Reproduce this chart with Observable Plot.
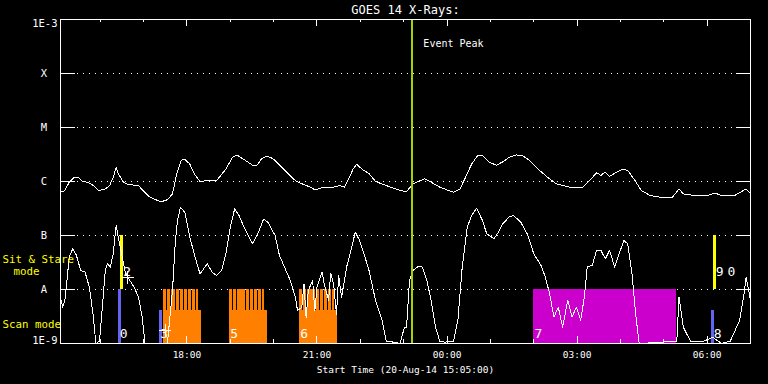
<!DOCTYPE html>
<html><head><meta charset="utf-8">
<script src="https://cdn.jsdelivr.net/npm/d3@7"></script>
<script src="https://cdn.jsdelivr.net/npm/@observablehq/plot@0.6"></script>
<style>html,body{margin:0;padding:0;background:#000;} #chart svg{display:block}</style>
</head><body><div id="chart"></div>
<script>
// ---- time base ----
const startISO = "2014-08-20T15:05:00Z";
const endMinutes = 955;               // plot ends 07:00 next day
const eventPeakMin = 487;             // Event Peak (~23:12)

// ---- GOES 14 long channel (1-8 Å), minutes after start, W/m^2 ----
const longMin = [0,6,12,19,25,31,37,46,53,62,68,73,77,80,87,93,108,114,124,139,148,155,161,167,172,179,185,193,204,216,229,238,244,253,266,272,278,284,291,297,306,315,325,334,346,352,365,377,386,393,399,405,410,417,427,436,451,470,479,488,498,504,513,525,544,553,563,569,578,584,593,603,612,621,631,640,649,661,674,686,705,723,733,742,748,754,760,770,779,785,794,804,816,831,847,856,862,878,896,906,915,933,949,955];
const longFlux = [6.3e-7,6.8e-7,9.7e-7,1.2e-6,1.17e-6,1.0e-6,9.7e-7,8.4e-7,6.8e-7,7.3e-7,8.4e-7,1.2e-6,1.8e-6,1.4e-6,9.7e-7,8.8e-7,8.4e-7,6.8e-7,5.1e-7,4.2e-7,4.6e-7,5.9e-7,1.4e-6,2.45e-6,2.6e-6,2.1e-6,1.4e-6,1.0e-6,1.04e-6,1.04e-6,1.7e-6,2.8e-6,3.1e-6,2.6e-6,2.0e-6,2.0e-6,2.6e-6,2.9e-6,2.8e-6,2.45e-6,1.84e-6,1.4e-6,1.04e-6,9.1e-7,7.85e-7,7.0e-7,7.85e-7,7.85e-7,8.4e-7,7.85e-7,1.12e-6,1.7e-6,2.1e-6,1.7e-6,1.4e-6,1.0e-6,8.4e-7,6.8e-7,6.5e-7,9.1e-7,1.04e-6,1.12e-6,9.7e-7,7.85e-7,6.3e-7,7.3e-7,1.4e-6,2.1e-6,3.1e-6,3.0e-6,2.3e-6,2.0e-6,2.3e-6,2.8e-6,3.1e-6,3.0e-6,2.45e-6,1.7e-6,1.2e-6,9.1e-7,7.85e-7,7.85e-7,1.07e-6,1.45e-6,1.3e-6,1.5e-6,1.24e-6,1.5e-6,1.7e-6,1.6e-6,1.1e-6,6.8e-7,5.5e-7,5.1e-7,5.1e-7,7.3e-7,5.9e-7,5.5e-7,5.5e-7,6.1e-7,5.5e-7,5.5e-7,7.3e-7,5.9e-7];

// ---- GOES 14 short channel (0.5-4 Å) ----
const shortMin = [0,3,6,9,12,17,22,28,34,40,45,49,54,59,62,65,69,73,77,80,85,90,96,102,108,113,117,148,151,155,159,162,166,172,179,185,193,198,203,210,216,223,229,235,241,247,255,266,275,281,287,297,303,312,318,325,328,334,337,340,343,349,352,355,362,365,371,374,378,382,385,389,396,402,408,414,420,427,436,445,451,461,470,476,479,483,488,495,501,507,513,519,525,532,544,550,556,563,569,576,584,590,600,606,612,621,627,637,646,655,665,671,677,683,689,695,702,708,714,720,725,729,736,742,748,754,760,767,773,780,785,791,796,801,853,856,862,872,890,903,915,927,940,946,949,955];
const shortFlux = [7.2e-9,4.7e-9,6.3e-9,1.47e-8,4.0e-8,5.7e-8,4.3e-8,2.25e-8,2.1e-8,1.1e-8,3.5e-9,1.0e-9,1.1e-9,7.2e-9,2.25e-8,3.0e-8,2.6e-8,4.6e-8,1.53e-7,9.3e-8,4.3e-8,1.95e-8,1.47e-8,1.1e-8,7.2e-9,3.1e-9,1.0e-9,1.0e-9,2.7e-9,9.6e-9,8.1e-8,1.9e-7,3.35e-7,2.7e-7,9.3e-8,4.6e-8,1.95e-8,2.4e-8,3.0e-8,2.1e-8,1.8e-8,2.25e-8,4.6e-8,1.43e-7,3.1e-7,2.35e-7,1.33e-7,7.0e-8,1.24e-7,2.0e-7,1.77e-7,1.0e-7,4.3e-8,2.25e-8,1.47e-8,7.2e-9,4.1e-9,4.7e-9,1.27e-8,3.0e-9,9.6e-9,1.47e-8,4.0e-9,1.1e-8,2.1e-8,1.27e-8,6.3e-9,2.0e-8,1.27e-8,3.5e-9,1.8e-8,7.2e-9,2.6e-8,5.3e-8,1.15e-7,8.1e-8,4.6e-8,2.25e-8,6.3e-9,2.7e-9,1.1e-9,1.06e-9,1.0e-9,2.0e-9,2.0e-9,1.47e-8,2.25e-8,2.67e-8,2.6e-8,1.47e-8,6.3e-9,2.0e-9,1.1e-9,1.06e-9,1.1e-9,2.7e-9,2.6e-8,1.43e-7,2.35e-7,3.2e-7,1.9e-7,1.07e-7,8.7e-8,1.15e-7,1.64e-7,2.2e-7,2.35e-7,1.77e-7,1.07e-7,4.6e-8,2.8e-8,1.7e-8,8.3e-9,3.1e-9,4.7e-9,2.0e-9,6.3e-9,3.1e-9,4.7e-9,2.7e-9,7.2e-9,2.6e-8,2.8e-8,5.3e-8,5.3e-8,3.7e-8,5.3e-8,2.6e-8,4.6e-8,8.1e-8,7.0e-8,1.95e-8,3.5e-9,1.0e-9,1.1e-9,7.2e-9,2.0e-9,1.1e-9,1.1e-9,1.3e-9,1.0e-9,1.1e-9,2.7e-9,8.3e-9,1.7e-8,6.3e-9];

// ---- observation timeline (minutes after start) ----
const scanBottom = 1e-9, scanLow = 4.1e-9, scanTop = 1e-8, sitTop = 1e-7;
const rasterSteps = [
  [143,148,154,160,166,172,177,183,188],
  [234,239,245,251,257,263,268,274,279],
  [331,336,342,348,354,360,365,371,376]
];
const rasterStepEnd = [192, 283, 380];
const rasterEnd = [195, 286, 383];
const magentaStart = [655], magentaEnd = [852];
const blueStart = [80.6, 137.2, 901.4], blueEnd = [84.3, 141.5, 905.3], blueTop = [1e-8, 4.1e-9, 4.1e-9];
const yellowStart = [83.1, 904.3], yellowEnd = [87.2, 907.4];
const obsLabels = ["0","2","3","5","6","7","8","9","0"];
const obsLabelMin = [82, 87, 138, 235, 332, 656, 904, 907, 923];
const obsLabelFlux = [1.5e-9, 2.1e-8, 1.5e-9, 1.5e-9, 1.5e-9, 1.5e-9, 1.5e-9, 2.1e-8, 2.1e-8];
const plusMin = [93, 145], plusFlux = [1.67e-8, 1.74e-9];

// ---- axes ----
const levelLetters = ["A","B","C","M","X"];
const levelValues = [1e-8,1e-7,1e-6,1e-5,1e-4];
const tickLabels = ["18:00","21:00","00:00","03:00","06:00"];
const tickMinutes = [175, 355, 535, 715, 895];
const modeText = ["Sit & Stare", "Scan mode"];
const modeFlux = [3.6e-8, 2.25e-9];

const t0 = new Date(startISO).getTime();
const at = m => new Date(t0 + m * 60000);

const longData = longMin.map((m, i) => ({t: at(m), f: longFlux[i]}));
const shortData = shortMin.map((m, i) => ({t: at(m), f: shortFlux[i]}));
const stripes = [];
rasterSteps.forEach((steps, b) => steps.forEach((s, j) => stripes.push({x1: at(s), x2: at(j + 1 < steps.length ? steps[j + 1] : rasterStepEnd[b])})));
const rasters = rasterSteps.map((steps, b) => ({x1: at(steps[0]), x2: at(rasterEnd[b])}));
const magenta = magentaStart.map((s, i) => ({x1: at(s), x2: at(magentaEnd[i])}));
const blues = blueStart.map((s, i) => ({x1: at(s), x2: at(blueEnd[i]), top: blueTop[i]}));
const yellows = yellowStart.map((s, i) => ({x1: at(s), x2: at(yellowEnd[i])}));
const obs = obsLabels.map((l, i) => ({t: at(obsLabelMin[i]), f: obsLabelFlux[i], l}));
const pluses = plusMin.map((m, i) => ({t: at(m), f: plusFlux[i]}));
const hourTicks = d3.utcHour.range(at(0), at(endMinutes));
const majorTicks = tickMinutes.map(at);

const W = 768, H = 384, mL = 60, mR = 18, mT = 19, mB = 41;
const iw = W - mL - mR, ih = H - mT - mB;
const font = "DejaVu Sans Mono";
const crisp = {shapeRendering: "crispEdges"};
const mid = {lineAnchor: "middle"};

const chart = Plot.plot({
  width: W, height: H, marginLeft: mL, marginRight: mR, marginTop: mT, marginBottom: mB,
  style: {background: "#000", color: "#fff", fontFamily: font, fontSize: "10px"},
  x: {type: "utc", domain: [at(0), at(endMinutes)], axis: null},
  y: {type: "log", domain: [1e-9, 1e-3], axis: null},
  marks: [
    Plot.ruleY(levelValues, {stroke: "#fff", strokeDasharray: "1,5", insetLeft: 17, insetRight: 15, ...crisp}),
    Plot.rect(magenta, {x1: "x1", x2: "x2", y1: scanBottom, y2: scanTop, fill: "#cc00cc", ...crisp}),
    Plot.rect(rasters, {x1: "x1", x2: "x2", y1: scanBottom, y2: scanLow, fill: "#ff8000", ...crisp}),
    Plot.rect(stripes, {x1: "x1", x2: "x2", y1: scanBottom, y2: scanTop, fill: "#ff8000", insetRight: 0.8, ...crisp}),
    Plot.rect(blues, {x1: "x1", x2: "x2", y1: scanBottom, y2: "top", fill: "#6464f0", ...crisp}),
    Plot.rect(yellows, {x1: "x1", x2: "x2", y1: scanTop, y2: sitTop, fill: "#ffff00", ...crisp}),
    Plot.line(longData, {x: "t", y: "f", stroke: "#fff", strokeWidth: 1, clip: true, ...crisp}),
    Plot.line(shortData, {x: "t", y: "f", stroke: "#fff", strokeWidth: 1, clip: true, ...crisp}),
    Plot.dot(pluses, {x: "t", y: "f", symbol: "plus", r: 4, stroke: "#fff", strokeWidth: 1, ...crisp}),
    Plot.ruleX([eventPeakMin], {x: d => at(d), stroke: "#a2d400", strokeWidth: 2, ...crisp}),
    Plot.text(["Event Peak"], {x: () => at(eventPeakMin), text: d => d, frameAnchor: "top", dx: 11, dy: 24, textAnchor: "start", fill: "#fff", fontSize: 10, ...mid}),
    Plot.text(obs, {x: "t", y: "f", text: "l", textAnchor: "start", fill: "#fff", fontSize: 13}),
    // frame and ticks
    Plot.frame({stroke: "#fff", ...crisp}),
    Plot.ruleX(hourTicks, {x: d => d, stroke: "#fff", insetBottom: ih - 3, ...crisp}),
    Plot.ruleX(majorTicks, {x: d => d, stroke: "#fff", insetBottom: ih - 7, ...crisp}),
    Plot.ruleX(hourTicks, {x: d => d, stroke: "#fff", insetTop: ih - 4, ...crisp}),
    Plot.ruleX(majorTicks, {x: d => d, stroke: "#fff", insetTop: ih - 7, ...crisp}),
    Plot.ruleY(levelValues, {stroke: "#fff", insetRight: iw - 15, ...crisp}),
    Plot.ruleY(levelValues, {stroke: "#fff", insetLeft: iw - 14, ...crisp}),
    // axis labels
    Plot.text(levelLetters, {y: (d, i) => levelValues[i], text: d => d, frameAnchor: "left", dx: -16.5, textAnchor: "middle", fill: "#fff", fontSize: 10.5}),
    Plot.text(["1E-3"], {y: () => 1e-3, text: d => d, frameAnchor: "left", dx: -3, dy: 4, textAnchor: "end", fill: "#fff", fontSize: 10.5}),
    Plot.text(["1E-9"], {y: () => 1e-9, text: d => d, frameAnchor: "left", dx: -3, dy: -3, textAnchor: "end", fill: "#fff", fontSize: 10.5}),
    Plot.text(modeText, {y: (d, i) => modeFlux[i], text: d => d, frameAnchor: "left", dx: -58, textAnchor: "start", fill: "#ffff00", fontSize: 10.8}),
    Plot.text(["mode"], {y: () => 2.15e-8, text: d => d, frameAnchor: "left", dx: -47, textAnchor: "start", fill: "#ffff00", fontSize: 10.8}),
    Plot.text(tickLabels, {x: (d, i) => majorTicks[i], text: d => d, frameAnchor: "bottom", dy: 11.5, fill: "#fff", fontSize: 9.5, ...mid}),
    Plot.text(["GOES 14 X-Rays:"], {text: d => d, frameAnchor: "top", dy: -9.5, fill: "#fff", fontSize: 12, ...mid}),
    Plot.text(["Start Time (20-Aug-14 15:05:00)"], {text: d => d, frameAnchor: "bottom", dy: 26, fill: "#fff", fontSize: 9.5, ...mid})
  ]
});
document.getElementById("chart").appendChild(chart);
</script></body></html>
